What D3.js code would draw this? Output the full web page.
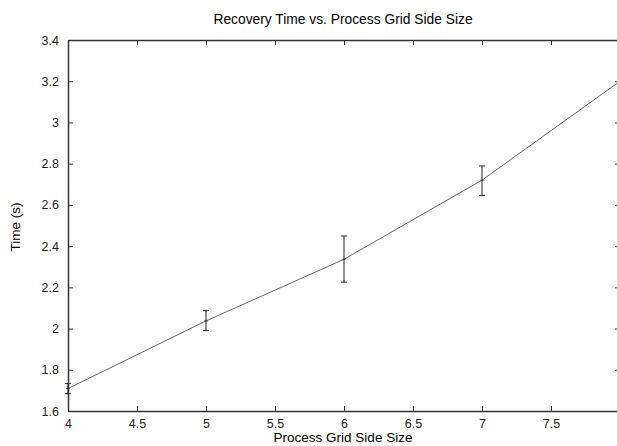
<!DOCTYPE html>
<html>
<head>
<meta charset="utf-8">
<script src="https://d3js.org/d3.v7.min.js"></script>
<style>
  body { margin: 0; background: #fff; }
  svg { display: block; font-family: "Liberation Sans", Arial, sans-serif; }
  .axis path, .axis line { stroke: #333; }
  .axis text { font-size: 12.5px; fill: #222; }
</style>
</head>
<body>
<div id="chart"></div>
<script>
// data
var gridSize = [4, 5, 6, 7, 8];
var meanTime = [1.709, 2.037, 2.336, 2.72, 3.2];
var lowTime  = [1.684, 1.99, 2.225, 2.646, 3.15];
var highTime = [1.733, 2.087, 2.449, 2.789, 3.25];
var xTicks = [4, 4.5, 5, 5.5, 6, 6.5, 7, 7.5];
var yTicks = [1.6, 1.8, 2, 2.2, 2.4, 2.6, 2.8, 3, 3.2, 3.4];

var margin = {top: 40, right: -3, bottom: 35, left: 68},
    width = 617 - margin.left - margin.right,
    height = 446 - margin.top - margin.bottom;

var x = d3.scaleLinear().domain([4, 8]).range([0, width]);
var y = d3.scaleLinear().domain([1.6, 3.4]).range([height, 0]);

var svg = d3.select("#chart").append("svg")
    .attr("width", 617)
    .attr("height", 446);

var g = svg.append("g")
    .attr("transform", "translate(" + margin.left + "," + margin.top + ")");

var fmt = function(d) { return d3.format("")(+d.toFixed(2)); };

// axes with inward ticks on all four sides
g.append("g").attr("class", "axis")
    .attr("transform", "translate(0," + height + ")")
    .call(d3.axisBottom(x).tickValues(xTicks).tickSize(-5).tickSizeOuter(0).tickPadding(8).tickFormat(fmt));
g.append("g").attr("class", "axis")
    .call(d3.axisTop(x).tickValues(xTicks).tickSize(-5).tickSizeOuter(0).tickFormat(""));
g.append("g").attr("class", "axis")
    .call(d3.axisLeft(y).tickValues(yTicks).tickSize(-5).tickSizeOuter(0).tickPadding(9).tickFormat(fmt));
g.append("g").attr("class", "axis")
    .attr("transform", "translate(" + width + ",0)")
    .call(d3.axisRight(y).tickValues(yTicks).tickSize(-5).tickSizeOuter(0).tickFormat(""));

g.selectAll(".axis path").attr("stroke-width", 1.5);

var pts = gridSize.map(function(d, i) {
  return {x: d, y: meanTime[i], lo: lowTime[i], hi: highTime[i]};
});

// data line
g.append("path")
    .datum(pts)
    .attr("fill", "none")
    .attr("stroke", "#666")
    .attr("stroke-width", 1)
    .attr("d", d3.line().x(function(d) { return x(d.x); }).y(function(d) { return y(d.y); }));

// error bars
var eb = g.selectAll(".err").data(pts).enter().append("g").attr("class", "err")
    .attr("stroke", "#222").attr("stroke-width", 1);
eb.append("line")
    .attr("x1", function(d) { return x(d.x); }).attr("x2", function(d) { return x(d.x); })
    .attr("y1", function(d) { return y(d.lo); }).attr("y2", function(d) { return y(d.hi); });
eb.append("line")
    .attr("x1", function(d) { return x(d.x) - 3; }).attr("x2", function(d) { return x(d.x) + 3; })
    .attr("y1", function(d) { return y(d.lo); }).attr("y2", function(d) { return y(d.lo); });
eb.append("line")
    .attr("x1", function(d) { return x(d.x) - 3; }).attr("x2", function(d) { return x(d.x) + 3; })
    .attr("y1", function(d) { return y(d.hi); }).attr("y2", function(d) { return y(d.hi); });
eb.append("line")
    .attr("x1", function(d) { return x(d.x) - 1.5; }).attr("x2", function(d) { return x(d.x) + 1.5; })
    .attr("y1", function(d) { return y(d.y); }).attr("y2", function(d) { return y(d.y); });

// titles
svg.append("text")
    .attr("x", 343).attr("y", 24)
    .attr("text-anchor", "middle")
    .style("font-size", "13.8px")
    .text("Recovery Time vs. Process Grid Side Size");

svg.append("text")
    .attr("x", 343).attr("y", 442)
    .attr("text-anchor", "middle")
    .style("font-size", "13.5px")
    .text("Process Grid Side Size");

svg.append("text")
    .attr("transform", "rotate(-90)")
    .attr("x", -227).attr("y", 20)
    .attr("text-anchor", "middle")
    .style("font-size", "13.5px")
    .text("Time (s)");
</script>
</body>
</html>
